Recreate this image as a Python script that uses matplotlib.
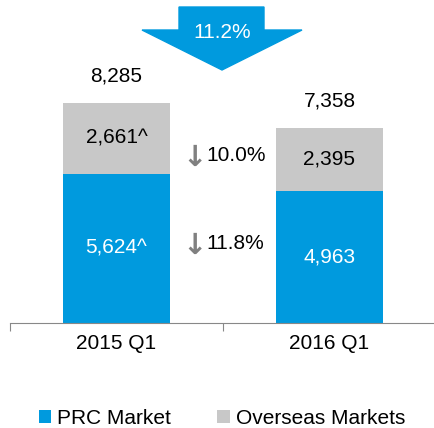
import numpy as np
import matplotlib.pyplot as plt
from matplotlib.patches import Polygon

plt.rcParams['font.family'] = ['Liberation Sans', 'DejaVu Sans']

# data
periods = ['2015 Q1', '2016 Q1']
prc = [5624, 4963]
overseas = [2661, 2395]
prc_labels = ['5,624^', '4,963']
overseas_labels = ['2,661^', '2,395']
total_labels = ['8,285', '7,358']
change_labels = ['10.0%', '11.8%']
total_change = '11.2%'

blue = '#009ADE'
grey = '#C8C8C8'
fs = 15

fig = plt.figure(figsize=(4.35, 4.28), dpi=100)
ax = fig.add_axes([10 / 435, 1 - 323 / 428, 426 / 435, 323 / 428])

x = np.arange(len(periods))
totals = np.array(prc) + np.array(overseas)
ax.bar(x, prc, width=0.5, color=blue, label='PRC Market')
ax.bar(x, overseas, width=0.5, bottom=prc, color=grey, label='Overseas Markets')

ax.set_xlim(-0.5, 1.5)
ax.set_ylim(0, 12166)

for i in range(len(x)):
    ax.text(x[i], prc[i] / 2, prc_labels[i], ha='center', va='center',
            color='white', fontsize=fs)
    ax.text(x[i], prc[i] + overseas[i] / 2, overseas_labels[i], ha='center',
            va='center', color='black', fontsize=fs)
    ax.text(x[i], totals[i] + 1000, total_labels[i], ha='center',
            va='center', color='black', fontsize=fs)

# small change labels between bars
mid_y = [6305, 3000]
for yv, lab in zip(mid_y, change_labels):
    ax.text(0.365, yv - 80, '\u2193', ha='center', va='center', color='#808080',
            fontsize=21, fontweight='bold', family=['DejaVu Sans'])
    ax.text(0.42, yv, lab, ha='left', va='center', color='black', fontsize=fs)

# big arrow on top
arr = Polygon([[179 / 435, 1 - 7 / 428], [264 / 435, 1 - 7 / 428],
               [264 / 435, 1 - 30 / 428], [302 / 435, 1 - 30 / 428],
               [222 / 435, 1 - 70 / 428], [142 / 435, 1 - 30 / 428],
               [179 / 435, 1 - 30 / 428]],
              closed=True, transform=fig.transFigure, color=blue, zorder=5)
fig.patches.append(arr)
fig.text(222 / 435, 1 - 33 / 428, total_change, ha='center', va='center',
         color='white', fontsize=fs, zorder=6)

# axes styling
for s in ['top', 'right', 'left']:
    ax.spines[s].set_visible(False)
ax.spines['bottom'].set_color('#888888')
ax.set_yticks([])
ax.set_xticks([-0.5, 0.5, 1.5], minor=False)
ax.set_xticklabels([])
ax.set_xticks(x, minor=True)
ax.set_xticklabels(periods, minor=True, fontsize=fs)
ax.tick_params(axis='x', which='minor', length=0, pad=8)
ax.tick_params(axis='x', which='major', direction='out', length=6, color='#888888')

leg = fig.legend(loc='center', bbox_to_anchor=(0.51, 1 - 418 / 428), ncol=2,
                 frameon=False, fontsize=fs, handlelength=0.6, handleheight=0.6,
                 handletextpad=0.3, columnspacing=2.2)

plt.savefig('out.png', dpi=100)
